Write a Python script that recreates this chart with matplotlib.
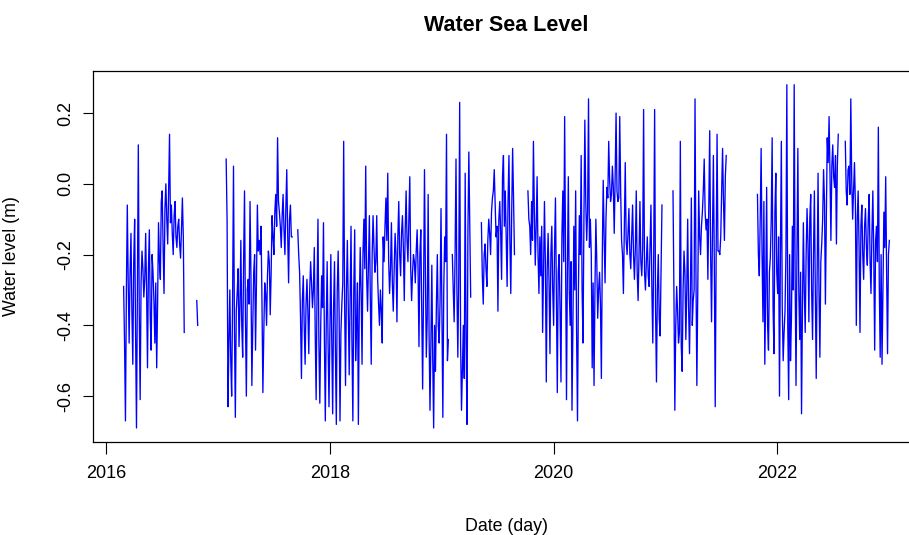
import matplotlib
matplotlib.use("Agg")
import matplotlib.pyplot as plt
import matplotlib.dates as mdates
import pandas as pd

plt.rcParams["font.family"] = ["Liberation Sans", "DejaVu Sans"]

# Sea level readings (m), one value every 3 days, split into the recorded stretches
step = "3D"

seg_a_start = "2016-02-26"
seg_a = [-0.29, -0.45, -0.67, -0.30, -0.06, -0.28, -0.45, -0.25, -0.14, -0.36,
         -0.51, -0.22, -0.10, -0.42, -0.69, -0.30, 0.11, -0.36, -0.61, -0.28,
         -0.19, -0.24, -0.32, -0.27, -0.14, -0.30, -0.52, -0.24, -0.13, -0.38,
         -0.47, -0.20, -0.25, -0.33, -0.45, -0.28, -0.52, -0.34, -0.11, -0.22,
         -0.27, -0.05, -0.02, -0.18, -0.31, -0.07, 0.00, -0.10, -0.17, -0.02,
         0.14, -0.11, -0.06, -0.14, -0.20, -0.09, -0.05, -0.15, -0.18, -0.12,
         -0.10, -0.17, -0.21, -0.13, -0.04, -0.15, -0.42]

seg_b_start = "2016-10-22"
seg_b = [-0.33, -0.40]

seg_c_start = "2017-01-26"
seg_c = [0.07, -0.10, -0.63, -0.45, -0.30, -0.50, -0.60, -0.33, 0.05, -0.40,
         -0.66, -0.36, -0.31, -0.24, -0.46, -0.35, -0.16, -0.40, -0.49, -0.22,
         -0.02, -0.38, -0.60, -0.30, -0.27, -0.34, -0.05, -0.26, -0.57, -0.40,
         -0.25, -0.20, -0.47, -0.28, -0.06, -0.19, -0.16, -0.20, -0.12, -0.33,
         -0.59, -0.42, -0.28, -0.31, -0.40, -0.26, -0.19, -0.22, -0.37, -0.25,
         -0.09, -0.15, -0.20, -0.08, -0.03, -0.12, 0.13, -0.05, -0.08, -0.12,
         -0.18, -0.09, -0.03, -0.13, -0.20, -0.07, 0.04, -0.14, -0.28, -0.10,
         -0.06, -0.15, -0.15]

seg_d_start = "2017-09-17"
seg_d = [-0.13, -0.20, -0.25, -0.38, -0.55, -0.33, -0.26, -0.40, -0.51, -0.34,
         -0.27, -0.36, -0.48, -0.30, -0.22, -0.28, -0.35, -0.30, -0.18, -0.42,
         -0.61, -0.30, -0.10, -0.45, -0.62, -0.40, -0.26, -0.35, -0.11, -0.44,
         -0.67, -0.40, -0.22, -0.45, -0.63, -0.42,
         -0.20, -0.44, -0.65, -0.35, -0.22, -0.48, -0.68, -0.30, -0.19, -0.36,
         -0.67, -0.42, -0.34, -0.28, 0.12, -0.33, -0.57, -0.30, -0.16, -0.36,
         -0.54, -0.32, -0.12, -0.45, -0.67, -0.30, -0.13, -0.50, -0.40, -0.28,
         -0.68, -0.35, -0.18, -0.30, -0.51, -0.20, -0.10, -0.24, 0.05, -0.26,
         -0.36, -0.22, -0.09, -0.32, -0.51, -0.20, -0.09, -0.18, -0.25, -0.22,
         -0.09, -0.27, -0.34, -0.40, -0.30, -0.36, -0.45, -0.15, -0.22, -0.12,
         -0.04, -0.16, 0.03, -0.22, -0.31, -0.24, -0.11, -0.28, -0.36, -0.24,
         -0.14, -0.20, -0.39, -0.15, -0.05, -0.20, -0.26, -0.14, -0.09, -0.18,
         -0.33, -0.13, -0.02, -0.16, -0.22, -0.10, 0.02, -0.24, -0.33, -0.25,
         -0.20, -0.22, -0.28, -0.19, -0.13, -0.24, -0.46, -0.20, -0.13, -0.35,
         -0.58, -0.30, 0.04, -0.25, -0.49, -0.38, -0.03, -0.42, -0.64, -0.45,
         -0.23, -0.50, -0.69, -0.40,
         -0.53, -0.34, -0.20, -0.40, -0.45, -0.33, -0.07, -0.36, -0.66, -0.30,
         -0.15, -0.22, 0.14, -0.50, -0.44]

seg_e_start = "2019-02-04"
seg_e = [-0.20, -0.30, -0.39, -0.20, 0.07, -0.30, -0.49, -0.26, 0.23, -0.45,
         -0.64, -0.52, -0.40, -0.55, 0.03, -0.45, -0.68, -0.13, 0.09, -0.12,
         -0.32]

seg_f_start = "2019-05-10"
seg_f = [-0.11, -0.26, -0.34, -0.20, -0.17, -0.24, -0.29, -0.16, -0.10, -0.14,
         -0.20, -0.08, -0.04, -0.02, 0.04, -0.06, -0.15, -0.12, -0.36, -0.10,
         -0.05, -0.14, -0.27, 0.02, 0.08, -0.12, -0.02, -0.15, -0.29, -0.05,
         0.08, -0.16, -0.31, -0.08, 0.10, -0.04, -0.20]

seg_g_start = "2019-10-09"
seg_g = [-0.02, -0.10, -0.12, -0.20, -0.05, -0.16, 0.12, -0.08, -0.23, -0.12,
         0.02, -0.20, -0.31, -0.15,
         -0.26, -0.12, -0.42, -0.25, -0.05, -0.22, -0.56, -0.24, -0.14, -0.28,
         -0.48, -0.20, -0.12, -0.30, -0.40, -0.18, -0.04, -0.32, -0.59, -0.25,
         -0.20, -0.36, -0.56, -0.15, -0.02, -0.22, 0.19, -0.20, -0.61, -0.25,
         0.02, -0.30, -0.40, -0.22, -0.64, -0.40, -0.12, -0.30, -0.02, -0.42,
         -0.67, -0.30, -0.09, -0.20, 0.08, -0.30, -0.45, -0.10, 0.18, -0.05,
         -0.16, -0.08, 0.24, -0.18, -0.10, -0.20, -0.52, -0.28, -0.57, -0.30,
         -0.10, -0.22, -0.38, -0.30, -0.25, -0.34, -0.55, -0.20, 0.01, -0.15,
         -0.28, -0.10, -0.01, -0.04, 0.12, 0.01, -0.05, -0.03, 0.05, -0.01,
         -0.14, 0.02, 0.20, -0.02, -0.05, -0.04, 0.19, -0.02, -0.16, -0.20,
         -0.31, -0.12, 0.06, -0.16, -0.20, -0.14, -0.07, -0.20, -0.24, -0.15,
         -0.06, -0.20, -0.27, -0.18, -0.02, -0.25, -0.33, -0.20, -0.05, -0.22,
         -0.26, -0.18, 0.21, -0.25,
         -0.30, -0.22, -0.15, -0.26, -0.29, -0.18, -0.06, -0.30, -0.45, -0.20,
         0.21, -0.35, -0.56, -0.30, -0.20, -0.38, -0.43, -0.25, -0.06]

seg_h_start = "2021-01-25"
seg_h = [-0.02, -0.30, -0.64, -0.40, -0.29, -0.36, -0.45, -0.42, 0.12, -0.46,
         -0.53, -0.30, -0.19, -0.25, -0.44, -0.30, -0.10, -0.35, -0.48, -0.30,
         -0.04, -0.40, -0.33, -0.30, 0.24, -0.25, -0.57, -0.30, -0.02, -0.15,
         -0.20, -0.12, -0.08, -0.02, 0.07, -0.08, -0.13, -0.10, -0.27, -0.06,
         0.15, -0.20, -0.39, -0.14, 0.08, -0.22, -0.63, -0.20, 0.14, -0.19,
         -0.19, -0.20, -0.15, -0.02, 0.10, -0.05, -0.16, 0.02, 0.08]

seg_i_start = "2021-10-28"
seg_i = [-0.03, -0.20, -0.26, -0.10, 0.10, -0.20, -0.39, -0.05, -0.51, -0.30,
         -0.01, -0.40, -0.47, -0.25, -0.21, -0.10, 0.13, -0.35, -0.48, -0.08,
         0.03, -0.25, -0.31, -0.15, -0.60, -0.20, 0.12, -0.35, -0.50, -0.42,
         -0.36, -0.20, 0.28, -0.40, -0.61, -0.20, -0.50, -0.38, -0.12, -0.30,
         0.28, -0.25, -0.57, -0.20, 0.10, -0.30, -0.44, -0.25, -0.65, -0.35,
         -0.11, -0.30, -0.42, -0.20, -0.07, -0.17, -0.39, -0.10, -0.03, -0.30,
         -0.44, -0.20, -0.02, -0.30, -0.55, -0.25, 0.03, -0.30, -0.49, -0.22,
         -0.17, -0.10, 0.04, -0.05, -0.34, -0.10, 0.13, 0.06, 0.19, 0.03,
         -0.16, 0.05, 0.11, 0.02, -0.01, 0.08, -0.17, 0.05, 0.14]

seg_j_start = "2022-08-11"
seg_j = [0.12, -0.02, -0.06, 0.04, 0.05, -0.03, 0.24, 0.01, -0.10, -0.02,
         0.06, -0.06, -0.40, -0.10, -0.02, -0.18, -0.42, -0.12, -0.06, -0.20,
         -0.27, -0.12, -0.07, -0.18, -0.23, -0.10, -0.03, -0.22, -0.31, -0.14,
         -0.02, -0.20, -0.47, -0.16, -0.12, -0.22, 0.16, -0.28, -0.49, -0.20,
         -0.51, -0.30, -0.08, -0.18, 0.02, -0.25, -0.48, -0.20, -0.16]

segments = [
    (seg_a_start, seg_a), (seg_b_start, seg_b), (seg_c_start, seg_c),
    (seg_d_start, seg_d), (seg_e_start, seg_e), (seg_f_start, seg_f),
    (seg_g_start, seg_g), (seg_h_start, seg_h), (seg_i_start, seg_i),
    (seg_j_start, seg_j),
]

y_ticks = [-0.6, -0.4, -0.2, 0.0, 0.2]

fig = plt.figure(figsize=(9.09, 5.35), dpi=100)
ax = fig.add_axes([93 / 909, 1 - 441.7 / 535, 827 / 909, 370.7 / 535])

xs, ys = [], []
for start, vals in segments:
    dates = pd.date_range(start, periods=len(vals), freq=step)
    ax.plot(dates, vals, color="#0000FF", linewidth=0.95)
    xs.extend(mdates.date2num(dates))
    ys.extend(vals)

# 4% padding on both axes around the data range
xmin, xmax = min(xs), max(xs)
ymin, ymax = min(ys), max(ys)
px = 0.04 * (xmax - xmin)
py = 0.04 * (ymax - ymin)
ax.set_xlim(xmin - px, xmax + px)
ax.set_ylim(ymin - py, ymax + py)

ax.xaxis.set_major_locator(mdates.YearLocator(2))
ax.xaxis.set_major_formatter(mdates.DateFormatter("%Y"))
ax.set_yticks(y_ticks)
ax.set_yticklabels([f"{t:.1f}" for t in y_ticks])

ax.tick_params(axis="x", direction="out", length=8.6, width=0.8, pad=8,
               labelsize=13, colors="black")
ax.tick_params(axis="y", direction="out", length=7.2, width=0.8, pad=6,
               labelsize=13, labelrotation=90, colors="black")
for lab in ax.get_yticklabels():
    lab.set_va("center")

for sp in ax.spines.values():
    sp.set_linewidth(0.9)
    sp.set_color("black")

ax.set_xlabel("Date (day)", fontsize=12.8)
ax.set_ylabel("Water level (m)", fontsize=12.8)
ax.xaxis.set_label_coords(0.5, -0.2060)
ax.yaxis.set_label_coords(-0.0883, 0.5)

ax.text(0.5, 1.124, "Water Sea Level", transform=ax.transAxes,
        ha="center", va="center", fontsize=15.5, fontweight="bold")

fig.savefig("out.png", dpi=100)
